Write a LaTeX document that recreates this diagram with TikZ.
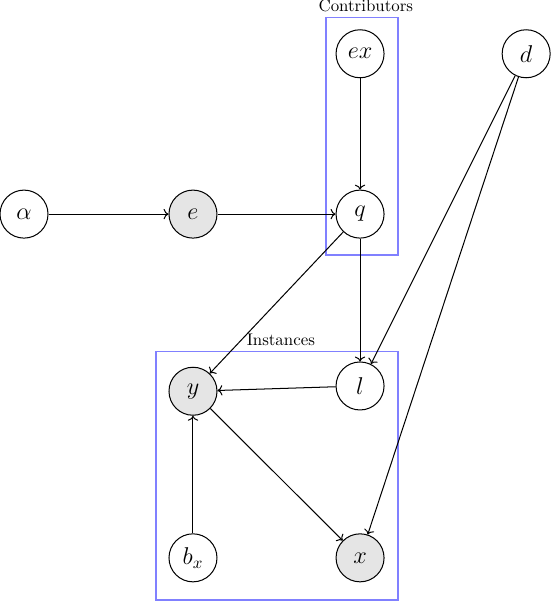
\documentclass[tikz,border=0pt]{standalone}
\usepackage{amsmath,amssymb}
\usepackage{xcolor}
\usepackage{tikz}
\usetikzlibrary{positioning,calc,arrows.meta}

\tikzset{
    latent/.style={circle, draw, semithick, minimum size=1cm, inner sep=0pt, font=\Large},
    obs/.style={latent, fill=gray!20},
    plate/.style={draw=blue!50, line width=0.7pt}
}

\begin{document}
\begin{tikzpicture}[semithick]
    \useasboundingbox (0,0) rectangle (11.5,-12.54);

    \node[latent] (alpha) at (0.5,-4.46) {$\alpha$};
    \node[obs] (e) at (4.02,-4.46) {$e$};
    \node[latent] (q) at (7.5,-4.46) {$q$};
    \node[latent] (ex) at (7.5,-1.12) {$ex$};
    \node[latent] (d) at (10.96,-1.12) {$d$};
    \node[obs] (y) at (4.02,-8.15) {$y$};
    \node[latent] (l) at (7.5,-8.04) {$l$};
    \node[latent] (bx) at (4.02,-11.62) {$b_x$};
    \node[obs] (x) at (7.5,-11.62) {$x$};

    % plates
    \draw[plate] (6.79,-0.37) rectangle (8.29,-5.31);
    \node[above] at (7.62,-0.37) {Contributors};
    \draw[plate] (3.25,-7.33) rectangle (8.29,-12.5);
    \node[above] at (5.85,-7.33) {Instances};

    \draw[->] (alpha) -- (e);
    \draw[->] (e) -- (q);
    \draw[->] (ex) -- (q);
    \draw[->] (q) -- (y);
    \draw[->] (q) -- (l);
    \draw[->] (d) -- (l);
    \draw[->] (d) -- (x);
    \draw[->] (l) -- (y);
    \draw[->] (bx) -- (y);
    \draw[->] (y) -- (x);
\end{tikzpicture}
\end{document}
